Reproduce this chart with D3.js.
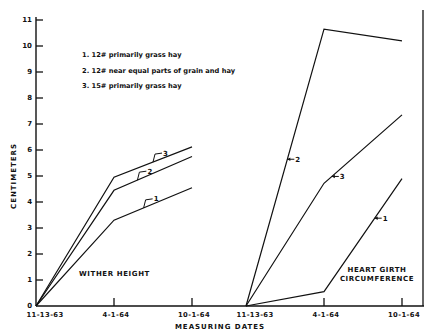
<!DOCTYPE html>
<html>
<head>
<meta charset="utf-8">
<script src="https://cdn.jsdelivr.net/npm/d3@7"></script>
<style>
  body { margin: 0; background: #fff; }
  svg text { font-family: "DejaVu Sans", sans-serif; font-weight: bold; fill: #111; }
</style>
</head>
<body>
<div id="chart"></div>
<script>
// measuring dates (same three for both panels)
const dates = ["11-13-63", "4-1-64", "10-1-64"];
const yTicks = [0, 1, 2, 3, 4, 5, 6, 7, 8, 9, 10, 11];

// wither height, cm
const wither1 = [0, 3.3, 4.55];
const wither2 = [0, 4.45, 5.75];
const wither3 = [0, 4.95, 6.12];

// heart girth circumference, cm
const girth1 = [0, 0.55, 4.9];
const girth2 = [0, 10.65, 10.2];
const girth3 = [0, 4.72, 7.35];

const legendItems = [
  "1. 12# primarily grass hay",
  "2. 12# near equal parts of grain and hay",
  "3. 15# primarily grass hay"
];

const width = 427, height = 332;
const svg = d3.select("#chart").append("svg")
  .attr("width", width)
  .attr("height", height);

const y = d3.scaleLinear().domain([0, 11]).range([306, 20]);
const xLeft = d3.scalePoint().domain(dates).range([36, 192]);
const xRight = d3.scalePoint().domain(dates).range([246, 402]);

// y axis line + ticks to the right, labels to the left
svg.append("line")
  .attr("x1", 36).attr("x2", 36)
  .attr("y1", y(11) - 3).attr("y2", y(0))
  .attr("stroke", "#111").attr("stroke-width", 1.4);

const yt = svg.append("g").selectAll("g")
  .data(yTicks)
  .enter().append("g")
  .attr("transform", d => `translate(36,${y(d)})`);
yt.filter(d => d > 0).append("line")
  .attr("x2", 7)
  .attr("stroke", "#111").attr("stroke-width", 1.3);
yt.append("text")
  .attr("x", -4)
  .attr("dy", "0.35em")
  .attr("text-anchor", "end")
  .attr("font-size", 7)
  .text(d => d);

// base line across both panels and right frame line
svg.append("line")
  .attr("x1", 36).attr("x2", 424)
  .attr("y1", y(0)).attr("y2", y(0))
  .attr("stroke", "#111").attr("stroke-width", 1.4);
svg.append("line")
  .attr("x1", 423).attr("x2", 423)
  .attr("y1", 10).attr("y2", y(0))
  .attr("stroke", "#111").attr("stroke-width", 1.3);

// x ticks and labels for each panel
[xLeft, xRight].forEach(x => {
  const g = svg.append("g");
  g.selectAll("line")
    .data(dates.slice(1))
    .enter().append("line")
    .attr("x1", d => x(d)).attr("x2", d => x(d))
    .attr("y1", y(0)).attr("y2", y(0) - 8)
    .attr("stroke", "#111").attr("stroke-width", 1.3);
  g.selectAll("text")
    .data(dates)
    .enter().append("text")
    .attr("x", (d, i) => x(d) + (i === 0 ? 9 : 2))
    .attr("y", 317)
    .attr("text-anchor", "middle")
    .attr("font-size", 6.8)
    .attr("letter-spacing", 0.4)
    .text(d => d);
});

const line = x => d3.line()
  .x((d, i) => x(dates[i]))
  .y(d => y(d));

const series = [
  { x: xLeft, v: wither1 }, { x: xLeft, v: wither2 }, { x: xLeft, v: wither3 },
  { x: xRight, v: girth1 }, { x: xRight, v: girth2 }, { x: xRight, v: girth3 }
];
svg.append("g").selectAll("path")
  .data(series)
  .enter().append("path")
  .attr("d", s => line(s.x)(s.v))
  .attr("fill", "none")
  .attr("stroke", "#111")
  .attr("stroke-width", 1.2);

// point along a segment (between date i and i+1) at fraction t
function along(x, v, i, t) {
  const x0 = x(dates[i]), x1 = x(dates[i + 1]);
  return [x0 + (x1 - x0) * t, y(v[i] + (v[i + 1] - v[i]) * t)];
}

// bracket callouts on wither height lines
const brackets = [
  { v: wither3, t: 0.5, label: "3" },
  { v: wither2, t: 0.3, label: "2" },
  { v: wither1, t: 0.38, label: "1" }
];
brackets.forEach(b => {
  const [px, py] = along(xLeft, b.v, 1, b.t);
  svg.append("path")
    .attr("d", `M${px},${py} L${px + 2},${py - 8} L${px + 9},${py - 9}`)
    .attr("fill", "none").attr("stroke", "#111").attr("stroke-width", 1);
  svg.append("text")
    .attr("x", px + 10).attr("y", py - 6.5)
    .attr("font-size", 7)
    .text(b.label);
});

// arrow callouts on heart girth lines
const arrows = [
  { v: girth2, i: 0, t: 0.53, label: "2" },
  { v: girth3, i: 1, t: 0.1, label: "3" },
  { v: girth1, i: 1, t: 0.65, label: "1" }
];
arrows.forEach(a => {
  const [px, py] = along(xRight, a.v, a.i, a.t);
  svg.append("line")
    .attr("x1", px).attr("x2", px + 7)
    .attr("y1", py).attr("y2", py)
    .attr("stroke", "#111").attr("stroke-width", 1);
  svg.append("path")
    .attr("d", `M${px},${py} l3,-1.8 l0,3.6 z`)
    .attr("fill", "#111");
  svg.append("text")
    .attr("x", px + 8).attr("y", py + 2.5)
    .attr("font-size", 7)
    .text(a.label);
});

// legend
svg.append("g").selectAll("text")
  .data(legendItems)
  .enter().append("text")
  .attr("x", 82)
  .attr("y", (d, i) => 57 + i * 15.5)
  .attr("font-size", 6.7)
  .text(d => d);

// panel titles and axis titles
svg.append("text")
  .attr("x", 79).attr("y", 276)
  .attr("font-size", 7)
  .attr("letter-spacing", 0.6)
  .text("WITHER HEIGHT");
svg.append("text")
  .attr("x", 377).attr("y", 272)
  .attr("text-anchor", "middle")
  .attr("font-size", 7)
  .attr("letter-spacing", 0.6)
  .text("HEART GIRTH");
svg.append("text")
  .attr("x", 377).attr("y", 281)
  .attr("text-anchor", "middle")
  .attr("font-size", 7)
  .attr("letter-spacing", 0.6)
  .text("CIRCUMFERENCE");
svg.append("text")
  .attr("x", 220).attr("y", 329)
  .attr("text-anchor", "middle")
  .attr("font-size", 7)
  .attr("letter-spacing", 1)
  .text("MEASURING DATES");
svg.append("text")
  .attr("transform", "translate(16,176) rotate(-90)")
  .attr("text-anchor", "middle")
  .attr("font-size", 7)
  .attr("letter-spacing", 1)
  .text("CENTIMETERS");
</script>
</body>
</html>
